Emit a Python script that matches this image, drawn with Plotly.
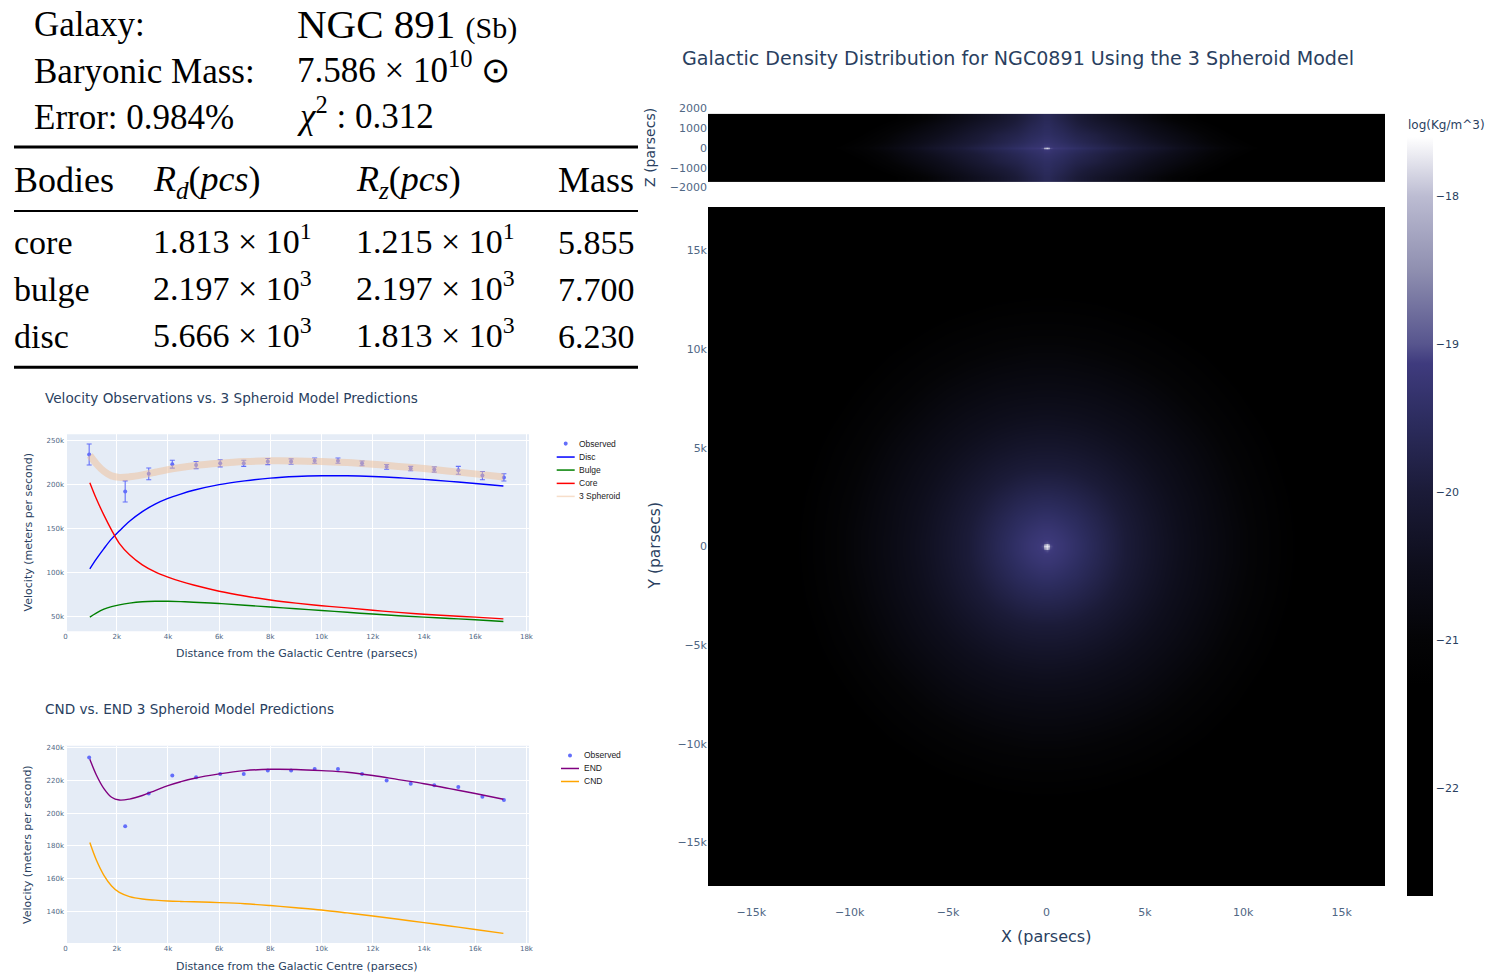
import plotly.graph_objects as go

WIDTH = 1487
HEIGHT = 978
SANS = "DejaVu Sans"
SERIF = "Liberation Serif"
TITLE_COLOR = "#2a3f5f"

# Observed rotation curve
obs_r = [924, 2330, 3250, 4170, 5100, 6040, 6960, 7900, 8810, 9730, 10640, 11580, 12540, 13480, 14400, 15340, 16280, 17120]
obs_v = [234000, 192000, 212000, 223000, 222000, 224000, 224000, 226000, 226000, 227000, 227000, 224000, 220000, 218000, 217000, 216000, 210000, 208000]
obs_err = [12000, 12000, 6700, 4500, 4000, 4000, 3500, 3500, 3000, 3000, 3000, 2700, 2700, 2500, 3000, 4500, 4700, 4200]

# Model curves
model_r = [950, 1200, 1500, 1800, 2100, 2500, 3000, 3500, 4000, 4500, 5000, 6000, 7000, 8000, 9000, 10000, 11000, 12000, 13000, 14000, 15000, 16000, 17100]
disc_v = [104000, 115000, 127000, 138000, 147000, 158000, 169000, 177500, 184000, 189000, 193300, 199700, 204000, 207200, 209000, 209800, 209800, 209000, 207600, 205700, 203500, 201000, 198200]
bulge_v = [49000, 53500, 58000, 61000, 63000, 65000, 66500, 67000, 67000, 66600, 66000, 64500, 62500, 60500, 58500, 56500, 54500, 52500, 50500, 49000, 47500, 46000, 44000]
core_v = [202000, 184000, 165000, 148000, 133000, 120000, 108500, 100500, 94500, 89600, 85500, 78500, 73000, 68500, 65000, 62000, 59500, 56800, 54400, 52300, 50500, 49000, 47000]
end_v = [233000, 223500, 215000, 209700, 208000, 208600, 210800, 213800, 216800, 219200, 221200, 224000, 226000, 226800, 226700, 226000, 225000, 223000, 220500, 218000, 215000, 212000, 208500]
cnd_v = [182000, 171500, 162000, 155500, 151500, 149000, 147500, 146800, 146300, 146000, 145800, 145300, 144600, 143500, 142200, 140800, 139000, 137100, 135100, 133100, 131000, 128900, 126500]

# Density maps, one quadrant each, log10(kg/m^3)
map_x = [0, 120, 200, 400, 800, 1500, 2500, 4000, 5000, 6000, 8000, 9500, 11000, 14000, 17200]
map_z = [0, 40, 120, 300, 700, 1150, 1530]
face_on = [
    [-17.7, -17.95, -19.0, -19.2, -19.27, -19.42, -19.65, -20.0, -20.2, -20.38, -20.68, -20.88, -21.08, -21.45, -21.85],
    [-17.95, -18.7, -19.1, -19.2, -19.27, -19.42, -19.65, -20.0, -20.2, -20.38, -20.68, -20.88, -21.08, -21.45, -21.85],
    [-19.0, -19.1, -19.15, -19.21, -19.27, -19.42, -19.65, -20.0, -20.2, -20.38, -20.68, -20.88, -21.08, -21.45, -21.85],
    [-19.2, -19.2, -19.21, -19.23, -19.29, -19.43, -19.66, -20.0, -20.2, -20.38, -20.68, -20.88, -21.08, -21.45, -21.85],
    [-19.27, -19.27, -19.27, -19.29, -19.34, -19.47, -19.68, -20.01, -20.21, -20.39, -20.69, -20.88, -21.08, -21.45, -21.85],
    [-19.42, -19.42, -19.42, -19.43, -19.47, -19.56, -19.75, -20.05, -20.24, -20.41, -20.7, -20.9, -21.09, -21.46, -21.86],
    [-19.65, -19.65, -19.65, -19.66, -19.68, -19.75, -19.89, -20.14, -20.31, -20.46, -20.73, -20.93, -21.11, -21.48, -21.87],
    [-20.0, -20.0, -20.0, -20.0, -20.01, -20.05, -20.14, -20.32, -20.44, -20.56, -20.81, -20.99, -21.17, -21.52, -21.9],
    [-20.2, -20.2, -20.2, -20.2, -20.21, -20.24, -20.31, -20.44, -20.54, -20.65, -20.87, -21.05, -21.21, -21.56, -21.93],
    [-20.38, -20.38, -20.38, -20.38, -20.39, -20.41, -20.46, -20.56, -20.65, -20.75, -20.95, -21.11, -21.27, -21.6, -21.97],
    [-20.68, -20.68, -20.68, -20.68, -20.69, -20.7, -20.73, -20.81, -20.87, -20.95, -21.12, -21.25, -21.4, -21.72, -22.05],
    [-20.88, -20.88, -20.88, -20.88, -20.88, -20.9, -20.93, -20.99, -21.05, -21.11, -21.25, -21.38, -21.52, -21.82, -22.12],
    [-21.08, -21.08, -21.08, -21.08, -21.08, -21.09, -21.11, -21.17, -21.21, -21.27, -21.4, -21.52, -21.65, -21.92, -22.2],
    [-21.45, -21.45, -21.45, -21.45, -21.45, -21.46, -21.48, -21.52, -21.56, -21.6, -21.72, -21.82, -21.92, -22.14, -22.38],
    [-21.85, -21.85, -21.85, -21.85, -21.85, -21.86, -21.87, -21.9, -21.93, -21.97, -22.05, -22.12, -22.2, -22.38, -22.6],
]
edge_on = [
    [-17.8, -18.2, -19.0, -19.2, -19.28, -19.42, -19.62, -19.9, -20.1, -20.3, -20.75, -21.05, -21.3, -21.7, -22.1],
    [-18.8, -19.0, -19.2, -19.28, -19.33, -19.47, -19.66, -19.93, -20.13, -20.33, -20.78, -21.07, -21.32, -21.72, -22.1],
    [-19.2, -19.22, -19.27, -19.33, -19.38, -19.52, -19.7, -19.97, -20.17, -20.37, -20.82, -21.1, -21.35, -21.75, -22.15],
    [-19.35, -19.35, -19.37, -19.4, -19.47, -19.62, -19.8, -20.07, -20.27, -20.47, -20.9, -21.17, -21.42, -21.8, -22.2],
    [-19.47, -19.47, -19.48, -19.52, -19.58, -19.75, -19.9, -20.2, -20.42, -20.62, -21.0, -21.3, -21.55, -21.9, -22.3],
    [-19.55, -19.55, -19.57, -19.62, -19.7, -19.9, -20.1, -20.38, -20.58, -20.8, -21.18, -21.45, -21.7, -22.05, -22.4],
    [-19.62, -19.62, -19.64, -19.7, -19.8, -20.0, -20.25, -20.52, -20.75, -20.97, -21.35, -21.6, -21.85, -22.2, -22.5],
]
density_ticks = [-18, -19, -20, -21, -22]
density_min = -22.73
density_max = -17.6

# Summary table
summary_rows = [
    ("Galaxy:", "NGC 891 <span style='font-size:30px'>(Sb)</span>"),
    ("Baryonic Mass:", "7.586 × 10<sup>10</sup> ⊙"),
    ("Error: 0.984%", "<i>χ</i><sup>2</sup> : 0.312"),
]
table_header = ["Bodies", "<i>R<sub>d</sub></i>(<i>pcs</i>)", "<i>R<sub>z</sub></i>(<i>pcs</i>)", "Mass"]
table_rows = [
    ["core", "1.813 × 10<sup>1</sup>", "1.215 × 10<sup>1</sup>", "5.855"],
    ["bulge", "2.197 × 10<sup>3</sup>", "2.197 × 10<sup>3</sup>", "7.700"],
    ["disc", "5.666 × 10<sup>3</sup>", "1.813 × 10<sup>3</sup>", "6.230"],
]


def paper_x(px):
    return px / WIDTH


def paper_y(px):
    return 1 - (px * 1.0055 - 2.3) / HEIGHT


def mirror_axis(values):
    return [-v for v in values[:0:-1]] + list(values)


def mirror_map(quadrant):
    rows = [row[:0:-1] + row for row in quadrant]
    return rows[:0:-1] + rows


def label(px, py, text, size, font=SANS, color=TITLE_COLOR, xanchor="left", yanchor="middle", angle=0):
    fig.add_annotation(
        x=paper_x(px), y=paper_y(py), xref="paper", yref="paper", text=text,
        showarrow=False, xanchor=xanchor, yanchor=yanchor, align="left", textangle=angle,
        font=dict(family=font, size=size, color=color), borderpad=0,
    )


def table_cell(px, py, text, size):
    # sub and superscripts change the text box, so those cells need a nudge
    nudge = 3 if "<sup>" in text else (-2 if "<sub>" in text else 0)
    label(px, py - nudge, text, size, font=SERIF, color="black")


def rule(y, thickness):
    fig.add_shape(
        type="line", xref="paper", yref="paper",
        x0=paper_x(14), x1=paper_x(638), y0=paper_y(y), y1=paper_y(y),
        line=dict(color="black", width=thickness),
    )


def key_entry(x0, x1, y, text_x, name, color, width=1.5):
    fig.add_shape(
        type="line", xref="paper", yref="paper",
        x0=paper_x(x0), x1=paper_x(x1), y0=paper_y(y), y1=paper_y(y),
        line=dict(color=color, width=width),
    )
    label(text_x, y, name, 8.5, font="Liberation Sans", color="#222222")


def key_marker(x, y, text_x, name):
    fig.add_shape(
        type="circle", xref="paper", yref="paper", line_width=0, fillcolor="#636efa",
        x0=paper_x(x - 2), x1=paper_x(x + 2), y0=paper_y(y + 2), y1=paper_y(y - 2),
    )
    label(text_x, y, name, 8.5, font="Liberation Sans", color="#222222")


fig = go.Figure()

density_scale = [
    [0.0, "#000000"],
    [(-21.3 - density_min) / (density_max - density_min), "#000000"],
    [(-21.0 - density_min) / (density_max - density_min), "#040406"],
    [(-20.5 - density_min) / (density_max - density_min), "#0e0e1c"],
    [(-20.0 - density_min) / (density_max - density_min), "#1b1b38"],
    [(-19.5 - density_min) / (density_max - density_min), "#2d2d60"],
    [(-19.13 - density_min) / (density_max - density_min), "#3f3b7e"],
    [(-19.0 - density_min) / (density_max - density_min), "#57558e"],
    [(-18.5 - density_min) / (density_max - density_min), "#8f8fb0"],
    [(-18.0 - density_min) / (density_max - density_min), "#bcbcd2"],
    [1.0, "#ffffff"],
]

# Edge-on and face-on density maps
fig.add_trace(go.Heatmap(
    x=mirror_axis(map_x), y=mirror_axis(map_z), z=mirror_map(edge_on),
    xaxis="x3", yaxis="y3", zsmooth="best", zmin=density_min, zmax=density_max,
    colorscale=density_scale, showscale=False,
))
fig.add_trace(go.Heatmap(
    x=mirror_axis(map_x), y=mirror_axis(map_x), z=mirror_map(face_on),
    xaxis="x4", yaxis="y4", zsmooth="best", zmin=density_min, zmax=density_max,
    colorscale=density_scale,
    colorbar=dict(
        x=paper_x(1407), xanchor="left", xpad=0, thickness=26,
        y=paper_y(516), yanchor="middle", len=762 / HEIGHT, ypad=0,
        outlinewidth=0, tickvals=density_ticks, ticks="", ticklabelposition="outside",
        tickfont=dict(family=SANS, size=11, color=TITLE_COLOR),
    ),
))

# Velocity components
fig.add_trace(go.Scatter(
    x=obs_r, y=obs_v, mode="markers", name="Observed", xaxis="x", yaxis="y",
    marker=dict(color="#636efa", size=4),
    error_y=dict(type="data", array=obs_err, color="#636efa", thickness=1.1, width=2.5),
))
for values, name, color in [(disc_v, "Disc", "blue"), (bulge_v, "Bulge", "green"), (core_v, "Core", "red")]:
    fig.add_trace(go.Scatter(
        x=model_r, y=values, mode="lines", name=name, xaxis="x", yaxis="y",
        line=dict(color=color, width=1.4, shape="spline"),
    ))
fig.add_trace(go.Scatter(
    x=model_r, y=end_v, mode="lines", name="3 Spheroid", xaxis="x", yaxis="y",
    line=dict(color="rgba(240,190,150,0.5)", width=7, shape="spline"),
))

# CND against END
fig.add_trace(go.Scatter(
    x=obs_r, y=obs_v, mode="markers", name="Observed", xaxis="x2", yaxis="y2",
    marker=dict(color="#636efa", size=4),
))
fig.add_trace(go.Scatter(
    x=model_r, y=end_v, mode="lines", name="END", xaxis="x2", yaxis="y2",
    line=dict(color="purple", width=1.4, shape="spline"),
))
fig.add_trace(go.Scatter(
    x=model_r, y=cnd_v, mode="lines", name="CND", xaxis="x2", yaxis="y2",
    line=dict(color="orange", width=1.4, shape="spline"),
))

small_tick = dict(family=SANS, size=7, color="#506784")
big_tick = dict(family=SANS, size=11, color="#506784")
velocity_axis = dict(
    gridcolor="white", zerolinecolor="white", gridwidth=1, tickfont=small_tick,
    showline=False, ticks="", automargin=False,
)
x_domain = [paper_x(65), paper_x(529)]
fig.update_layout(
    width=WIDTH, height=HEIGHT, margin=dict(l=0, r=0, t=0, b=0),
    autosize=False, showlegend=False,
    paper_bgcolor="white", plot_bgcolor="rgba(0,0,0,0)",
    xaxis=dict(velocity_axis, domain=x_domain, range=[-20, 18100], dtick=2000, anchor="y"),
    yaxis=dict(velocity_axis, domain=[paper_y(630.7), paper_y(434)], range=[32900, 257000],
               tickvals=[50000, 100000, 150000, 200000, 250000], anchor="x"),
    xaxis2=dict(velocity_axis, domain=x_domain, range=[-20, 18100], dtick=2000, anchor="y2"),
    yaxis2=dict(velocity_axis, domain=[paper_y(942), paper_y(745)], range=[120600, 241200],
                tickvals=[140000, 160000, 180000, 200000, 220000, 240000], anchor="x2"),
    xaxis3=dict(domain=[paper_x(708), paper_x(1385)], range=[-17200, 17200], showticklabels=False,
                showgrid=False, zeroline=False, anchor="y3"),
    yaxis3=dict(domain=[paper_y(192), paper_y(104)], range=[-2228, 2228], dtick=1000, tickfont=big_tick,
                showgrid=False, zeroline=False, anchor="x3"),
    xaxis4=dict(domain=[paper_x(708), paper_x(1385)], range=[-17200, 17200], dtick=5000, tickfont=big_tick,
                showgrid=False, zeroline=False, anchor="y4", ticks="outside", ticklen=16,
                tickcolor="rgba(0,0,0,0)"),
    yaxis4=dict(domain=[paper_y(885), paper_y(207)], range=[-17200, 17200], dtick=5000, tickfont=big_tick,
                showgrid=False, zeroline=False, anchor="x4"),
)

# Plot backgrounds for the two velocity panels
for top, bottom in [(434, 630.7), (745, 942)]:
    fig.add_shape(
        type="rect", xref="paper", yref="paper", layer="below", line_width=0, fillcolor="#E5ECF6",
        x0=x_domain[0], x1=x_domain[1], y0=paper_y(bottom), y1=paper_y(top),
    )

# Summary block above the velocity panels
for y, (left, right) in zip([24, 71, 117], summary_rows):
    table_cell(33, y + 1, left, 35)
    table_cell(296, y, right, 35 if y > 24 else 41)
rule(147, 3)
rule(211, 2)
rule(367, 3)
columns = [13, 152, 355, 557]
for x, text in zip(columns, table_header):
    table_cell(x, 180, text, 36)
for y, row in zip([242, 289, 336], table_rows):
    for x, text in zip(columns, row):
        table_cell(x, y, text, 34)

# Panel titles
label(681, 58.5, "Galactic Density Distribution for NGC0891 Using the 3 Spheroid Model", 19.1)
label(44, 398, "Velocity Observations vs. 3 Spheroid Model Predictions", 13.6)
label(44, 708.5, "CND vs. END 3 Spheroid Model Predictions", 13.6)

# Axis titles
for axis_y in [653, 965]:
    label(297, axis_y, "Distance from the Galactic Centre (parsecs)", 11, xanchor="center")
for axis_y in [532, 844]:
    label(28, axis_y, "Velocity (meters per second)", 11, xanchor="center", angle=-90)
label(1046, 935.5, "X (parsecs)", 16, xanchor="center")
label(655, 546, "Y (parsecs)", 15.5, xanchor="center", angle=-90)
label(650, 148, "Z (parsecs)", 14, xanchor="center", angle=-90)
label(1407, 125, "log(Kg/m^3)", 12)

# Keys for the velocity panels
key_marker(565.7, 443.3, 578, "Observed")
key_entry(556.7, 574.7, 456.7, 578, "Disc", "blue")
key_entry(556.7, 574.7, 469.7, 578, "Bulge", "green")
key_entry(556.7, 574.7, 483, 578, "Core", "red")
key_entry(556.7, 574.7, 496, 578, "3 Spheroid", "rgba(240,190,150,0.5)")
key_marker(570, 754.7, 582.5, "Observed")
key_entry(561, 579, 767.7, 582.5, "END", "purple")
key_entry(561, 579, 780.7, 582.5, "CND", "orange")

fig.write_html("out.html", config={"displayModeBar": False}, post_script="document.body.style.margin='0';")
